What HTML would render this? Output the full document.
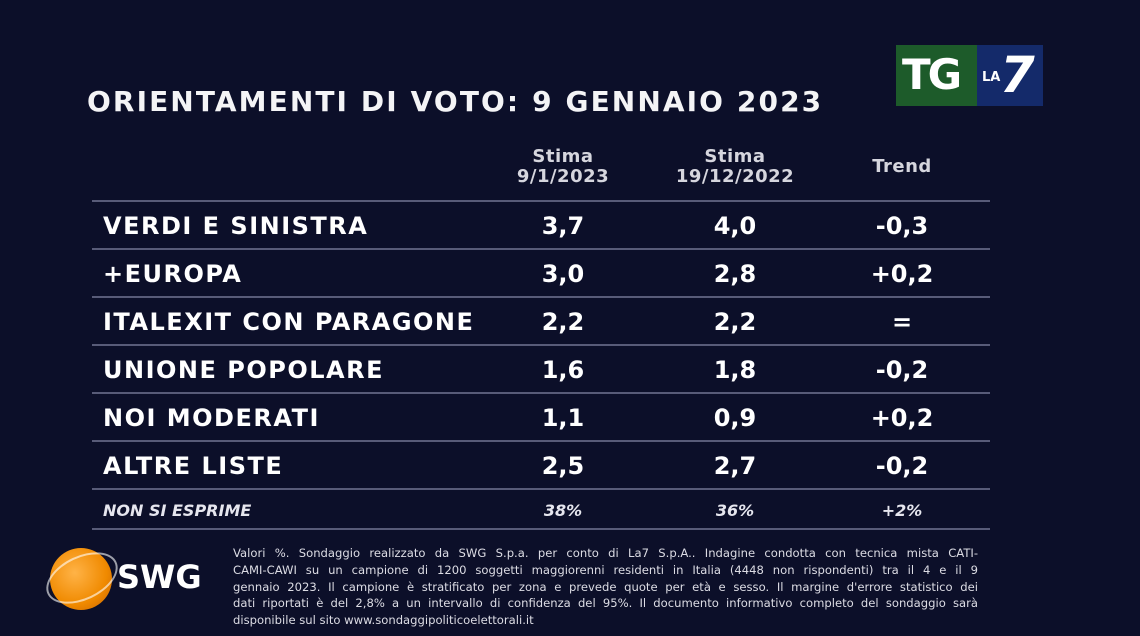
<!DOCTYPE html>
<html><head><meta charset="utf-8"><style>
body{margin:0;width:1140px;height:636px;background:#0c0f29;overflow:hidden;position:relative;font-family:"DejaVu Sans","Liberation Sans",sans-serif;color:#fff}
.a{position:absolute;white-space:nowrap}
.t{left:87px;top:85px;font-size:28px;font-weight:bold;letter-spacing:2.1px;color:#f4f4f6}
.h{font-size:18px;font-weight:bold;color:#d6d6de;text-align:center;line-height:20px;width:200px;letter-spacing:0.5px}
.l{position:absolute;left:92px;width:898px;height:2px;background:#585b78}
.r{font-size:24px;font-weight:bold;left:103px;letter-spacing:1.5px}
.v{font-size:24px;font-weight:bold;text-align:center;width:160px}
.n{font-size:16px;font-weight:bold;font-style:italic;color:#e6e6ee}
.f{left:233px;top:545px;font-family:"DejaVu Sans","Liberation Sans",sans-serif;font-size:11.6px;line-height:16.8px;color:#dcdce4;white-space:normal;width:745px}
.f div{text-align:justify;text-align-last:justify;white-space:nowrap;overflow:hidden}
.f div.e{text-align-last:left}
</style></head><body>
<div class="a t">ORIENTAMENTI DI VOTO: 9 GENNAIO 2023</div>
<div class="a" style="left:896px;top:45px;width:81px;height:61px;background:#1d5b2a"></div>
<div class="a" style="left:977px;top:45px;width:66px;height:61px;background:#142a6a"></div>
<div class="a" style="left:902px;top:50px;font-size:42px;font-weight:bold;letter-spacing:-3px;color:#fff">TG</div>
<div class="a" style="left:982px;top:70px;font-size:13px;font-weight:bold">LA</div>
<div class="a" style="left:1000px;top:46px;font-size:50px;font-weight:bold;font-style:italic">7</div>
<div class="a h" style="left:463px;top:147px">Stima<br>9/1/2023</div>
<div class="a h" style="left:635px;top:147px">Stima<br>19/12/2022</div>
<div class="a h" style="left:802px;top:157px">Trend</div>
<div class="l" style="top:200px"></div>
<div class="l" style="top:248px"></div>
<div class="l" style="top:296px"></div>
<div class="l" style="top:344px"></div>
<div class="l" style="top:392px"></div>
<div class="l" style="top:440px"></div>
<div class="l" style="top:488px"></div>
<div class="l" style="top:528px"></div>
<div class="a r" style="top:212px">VERDI E SINISTRA</div>
<div class="a r" style="top:260px">+EUROPA</div>
<div class="a r" style="top:308px">ITALEXIT CON PARAGONE</div>
<div class="a r" style="top:356px">UNIONE POPOLARE</div>
<div class="a r" style="top:404px">NOI MODERATI</div>
<div class="a r" style="top:452px">ALTRE LISTE</div>
<div class="a n" style="left:103px;top:501px">NON SI ESPRIME</div>
<div class="a v" style="left:483px;top:212px">3,7</div><div class="a v" style="left:655px;top:212px">4,0</div><div class="a v" style="left:822px;top:212px">-0,3</div>
<div class="a v" style="left:483px;top:260px">3,0</div><div class="a v" style="left:655px;top:260px">2,8</div><div class="a v" style="left:822px;top:260px">+0,2</div>
<div class="a v" style="left:483px;top:308px">2,2</div><div class="a v" style="left:655px;top:308px">2,2</div><div class="a v" style="left:822px;top:308px">=</div>
<div class="a v" style="left:483px;top:356px">1,6</div><div class="a v" style="left:655px;top:356px">1,8</div><div class="a v" style="left:822px;top:356px">-0,2</div>
<div class="a v" style="left:483px;top:404px">1,1</div><div class="a v" style="left:655px;top:404px">0,9</div><div class="a v" style="left:822px;top:404px">+0,2</div>
<div class="a v" style="left:483px;top:452px">2,5</div><div class="a v" style="left:655px;top:452px">2,7</div><div class="a v" style="left:822px;top:452px">-0,2</div>
<div class="a n v" style="left:483px;top:501px;font-size:16px">38%</div><div class="a n v" style="left:655px;top:501px;font-size:16px">36%</div><div class="a n v" style="left:822px;top:501px;font-size:16px">+2%</div>
<div class="a" style="left:50px;top:548px;width:62px;height:62px;border-radius:50%;background:radial-gradient(circle at 40% 40%,#ffb347,#f08a00 60%,#c45f00)"></div>
<div class="a" style="left:44px;top:556px;width:72px;height:40px;border-radius:50%;border:2px solid rgba(255,255,255,0.6);transform:rotate(-25deg)"></div>
<div class="a" style="left:117px;top:558px;font-size:32px;font-weight:bold">SWG</div>
<div class="a f">
<div>Valori %. Sondaggio realizzato da SWG S.p.a. per conto di La7 S.p.A.. Indagine condotta con tecnica mista CATI-</div>
<div>CAMI-CAWI su un campione di 1200 soggetti maggiorenni residenti in Italia (4448 non rispondenti) tra il 4 e il 9</div>
<div>gennaio 2023. Il campione è stratificato per zona e prevede quote per età e sesso. Il margine d'errore statistico dei</div>
<div>dati riportati è del 2,8% a un intervallo di confidenza del 95%. Il documento informativo completo del sondaggio sarà</div>
<div class="e">disponibile sul sito www.sondaggipoliticoelettorali.it</div>
</div>
</body></html>
